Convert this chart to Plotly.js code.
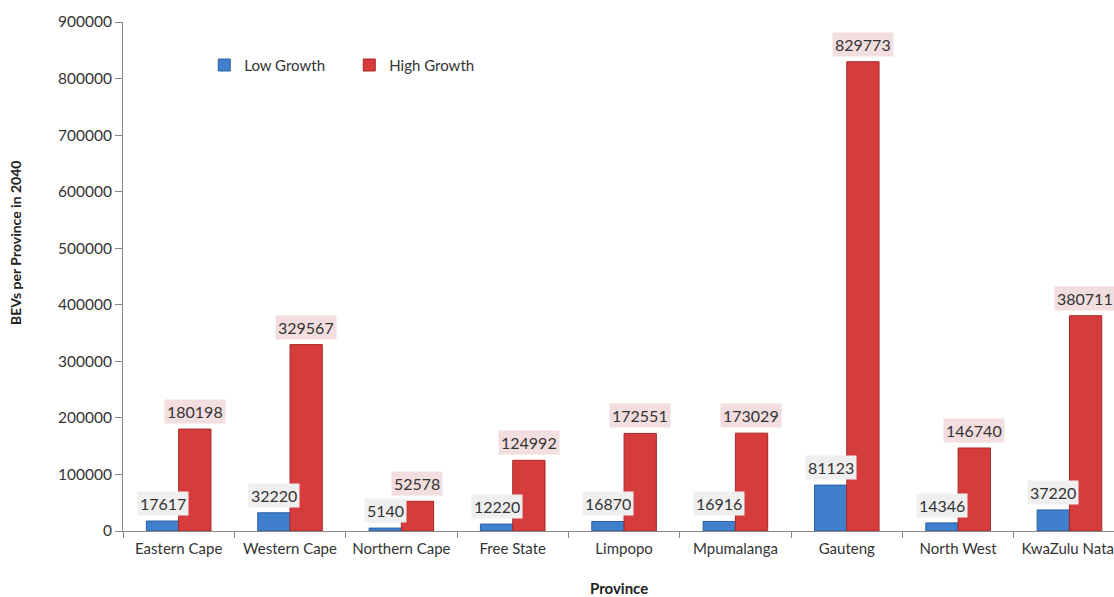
<!DOCTYPE html>
<html><head><meta charset="utf-8">
<script src="https://cdn.plot.ly/plotly-3.0.1.min.js"></script>
<style>html,body{margin:0;padding:0;background:#fff;}#chart{width:1114px;height:597px;}</style>
</head><body><div id="chart"></div>
<script>
const provinces = ["Eastern Cape","Western Cape","Northern Cape","Free State","Limpopo","Mpumalanga","Gauteng","North West","KwaZulu Natal"];
const lowGrowth = [17617, 32220, 5140, 12220, 16870, 16916, 81123, 14346, 37220];
const highGrowth = [180198, 329567, 52578, 124992, 172551, 173029, 829773, 146740, 380711];
const yTicks = [0,100000,200000,300000,400000,500000,600000,700000,800000,900000];

const FONT = "Lato, 'Liberation Sans', sans-serif";
const traces = [
  {type:'bar', name:'Low Growth', x:provinces, y:lowGrowth,
   marker:{color:'#3f7fcc', line:{color:'#2b5f9f', width:1}}},
  {type:'bar', name:'High Growth', x:provinces, y:highGrowth,
   marker:{color:'#d63c3c', line:{color:'#a82828', width:1}}}
];
const annotations = [];
provinces.forEach((p,i)=>{
  annotations.push({x:p, y:lowGrowth[i], xref:'x', yref:'y', text:String(lowGrowth[i]), showarrow:false,
    xshift:-16, yanchor:'bottom', yshift:5, bgcolor:'#efefef', borderpad:2,
    font:{family:FONT, size:16, color:'#333'}});
  annotations.push({x:p, y:highGrowth[i], xref:'x', yref:'y', text:String(highGrowth[i]), showarrow:false,
    xshift:16, yanchor:'bottom', yshift:5, bgcolor:'#f2dede', borderpad:2,
    font:{family:FONT, size:16, color:'#333'}});
});
annotations.push({xref:'paper', yref:'paper', x:0, y:0.566, xanchor:'center', yanchor:'middle', xshift:-107,
  textangle:-90, showarrow:false, text:'<b>BEVs per Province in 2040</b>', font:{family:FONT, size:14, color:'#222'}});
annotations.push({xref:'paper', yref:'paper', x:0.5, y:0, xanchor:'center', yanchor:'middle', yshift:-57,
  showarrow:false, text:'<b>Province</b>', font:{family:FONT, size:15, color:'#222'}});

const layout = {
  width:1114, height:597,
  margin:{l:123, r:0, t:22, b:66},
  paper_bgcolor:'#fff', plot_bgcolor:'#fff',
  font:{family:FONT, size:14, color:'#333'},
  barmode:'group', bargap:0.42, bargroupgap:0,
  showlegend:true,
  legend:{orientation:'h', x:0.082, y:0.915, xanchor:'left', yanchor:'middle',
    entrywidth:100, entrywidthmode:'pixels', font:{family:FONT, size:15, color:'#333'},
    bgcolor:'rgba(0,0,0,0)'},
  xaxis:{type:'category', range:[-0.5, 8.4], showline:true, linecolor:'#888', linewidth:1,
    ticks:'outside', tickson:'boundaries', ticklen:6, tickcolor:'#888', ticklabelstandoff:4, tickangle:0,
    tickfont:{family:FONT, size:15, color:'#333'}, showgrid:false, zeroline:false},
  yaxis:{range:[0,900000], tickvals:yTicks, ticktext:yTicks.map(String), showline:true, linecolor:'#888', linewidth:1,
    ticks:'outside', ticklen:7, tickcolor:'#888', showgrid:false, zeroline:false,
    tickfont:{family:FONT, size:15.5, color:'#333'}},
  annotations:annotations
};
Plotly.newPlot('chart', traces, layout, {displayModeBar:false, staticPlot:true});
</script></body></html>
